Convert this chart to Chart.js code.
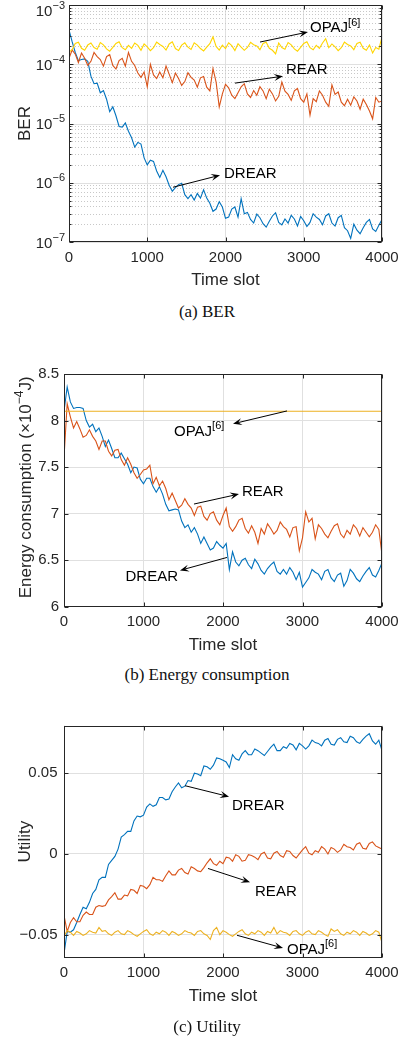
<!DOCTYPE html>
<html>
<head>
<meta charset="utf-8">
<script src="https://cdn.jsdelivr.net/npm/chart.js@4.4.1/dist/chart.umd.min.js"></script>
<style>
body { margin: 0; background: #fff; }
#page { position: relative; width: 406px; height: 1041px; overflow: hidden; }
canvas { position: absolute; left: 0; }
.cap { position: absolute; left: 0; width: 414px; text-align: center; font: 17px/20px "Liberation Serif", "Times New Roman", serif; color: #111; }
</style>
</head>
<body>
<div id="page">
  <canvas id="ber" width="406" height="300" style="top:0px"></canvas>
  <div class="cap" style="top:302px">(a) BER</div>
  <canvas id="energy" width="406" height="300" style="top:360px"></canvas>
  <div class="cap" style="top:665px">(b) Energy consumption</div>
  <canvas id="utility" width="406" height="310" style="top:710px"></canvas>
  <div class="cap" style="top:1017px">(c) Utility</div>
</div>
<script>
// DATA (one value every 40 time slots)
const timeSlots = [
  0, 40, 80, 120, 160, 200, 240, 280, 320, 360,
  400, 440, 480, 520, 560, 600, 640, 680, 720, 760,
  800, 840, 880, 920, 960, 1000, 1040, 1080, 1120, 1160,
  1200, 1240, 1280, 1320, 1360, 1400, 1440, 1480, 1520, 1560,
  1600, 1640, 1680, 1720, 1760, 1800, 1840, 1880, 1920, 1960,
  2000, 2040, 2080, 2120, 2160, 2200, 2240, 2280, 2320, 2360,
  2400, 2440, 2480, 2520, 2560, 2600, 2640, 2680, 2720, 2760,
  2800, 2840, 2880, 2920, 2960, 3000, 3040, 3080, 3120, 3160,
  3200, 3240, 3280, 3320, 3360, 3400, 3440, 3480, 3520, 3560,
  3600, 3640, 3680, 3720, 3760, 3800, 3840, 3880, 3920, 3960,
  4000
];
const xTicks = [0, 1000, 2000, 3000, 4000];

// (a) BER
const berDecades = [-7, -6, -5, -4, -3];
const berDrear = [
  3.8e-4, 2.4e-4, 1.58e-4, 1.15e-4, 1.2e-4, 1.23e-4, 1.12e-4, 6.3e-5, 4.7e-5, 4.8e-5,
  3.3e-5, 3.6e-5, 2.57e-5, 1.58e-5, 1.91e-5, 1.35e-5, 8.9e-6, 8.7e-6, 1.02e-5, 7.4e-6,
  5.75e-6, 4.0e-6, 4.8e-6, 4.5e-6, 2.63e-6, 2.0e-6, 2.4e-6, 2.29e-6, 1.58e-6, 1.23e-6,
  1.62e-6, 1.26e-6, 9.1e-7, 7.2e-7, 8.3e-7, 9.3e-7, 9.8e-7, 6.3e-7, 5.4e-7, 6.3e-7,
  5.1e-7, 6.6e-7, 5.5e-7, 7.6e-7, 5.5e-7, 4.5e-7, 3.3e-7, 3.6e-7, 4.8e-7, 3.9e-7,
  2.51e-7, 2.63e-7, 3.6e-7, 3.9e-7, 2.63e-7, 5.4e-7, 3.0e-7, 3.16e-7, 2.4e-7, 2.09e-7,
  2.95e-7, 2.57e-7, 2.04e-7, 1.78e-7, 2.24e-7, 2.75e-7, 3.1e-7, 2.14e-7, 1.95e-7, 2.45e-7,
  2.09e-7, 2.82e-7, 2.45e-7, 1.86e-7, 2.69e-7, 2.29e-7, 1.82e-7, 2.14e-7, 3.0e-7, 2.63e-7,
  2.4e-7, 1.95e-7, 2.75e-7, 3.0e-7, 2.09e-7, 1.86e-7, 2.57e-7, 2.82e-7, 1.74e-7, 1.55e-7,
  1.15e-7, 2.0e-7, 1.58e-7, 1.38e-7, 1.74e-7, 2.14e-7, 2.4e-7, 1.66e-7, 1.51e-7, 1.91e-7,
  2.4e-7
];
const berRear = [
  1.26e-4, 1.74e-4, 1.48e-4, 1.07e-4, 1.55e-4, 1.26e-4, 9.55e-5, 1.12e-4, 1.58e-4, 1.35e-4,
  1.2e-4, 9.3e-5, 1.35e-4, 1.45e-4, 9.55e-5, 8.3e-5, 1.15e-4, 1.26e-4, 9.3e-5, 1.58e-4,
  1.12e-4, 9.55e-5, 7.1e-5, 6.0e-5, 7.4e-5, 4.17e-5, 1.0e-4, 6.6e-5, 5.75e-5, 7.4e-5,
  5.9e-5, 9.3e-5, 6.8e-5, 4.9e-5, 7.1e-5, 5.75e-5, 4.4e-5, 5.1e-5, 7.2e-5, 6.0e-5,
  5.4e-5, 4.1e-5, 5.9e-5, 6.2e-5, 4.1e-5, 3.55e-5, 8.5e-5, 5.0e-5, 1.91e-5, 3.16e-5,
  4.6e-5, 4.0e-5, 3.0e-5, 2.63e-5, 3.3e-5, 4.17e-5, 4.7e-5, 3.16e-5, 2.75e-5, 3.6e-5,
  3.0e-5, 4.17e-5, 3.55e-5, 2.63e-5, 3.8e-5, 3.16e-5, 2.4e-5, 2.88e-5, 5.0e-5, 3.5e-5,
  3.1e-5, 2.45e-5, 3.55e-5, 3.9e-5, 2.63e-5, 2.29e-5, 3.16e-5, 1.38e-5, 2.63e-5, 2.34e-5,
  3.55e-5, 3.0e-5, 2.29e-5, 1.95e-5, 4.5e-5, 3.1e-5, 3.4e-5, 2.29e-5, 2.0e-5, 2.57e-5,
  2.04e-5, 2.82e-5, 2.4e-5, 1.74e-5, 2.57e-5, 2.09e-5, 1.62e-5, 1.2e-5, 2.75e-5, 2.29e-5,
  2.4e-5
];
const berOpaj = [
  1.6e-4, 1.76e-4, 2.24e-4, 2.36e-4, 1.86e-4, 1.72e-4, 2.12e-4, 2.28e-4, 1.92e-4, 1.8e-4,
  2.32e-4, 2.12e-4, 1.82e-4, 1.66e-4, 1.92e-4, 2.24e-4, 2.4e-4, 1.9e-4, 1.76e-4, 2.08e-4,
  1.86e-4, 2.28e-4, 2.08e-4, 1.72e-4, 2.2e-4, 1.96e-4, 1.7e-4, 1.9e-4, 2.36e-4, 2.16e-4,
  2.0e-4, 1.74e-4, 2.2e-4, 2.4e-4, 1.84e-4, 1.7e-4, 2.1e-4, 2.3e-4, 1.94e-4, 1.78e-4,
  2.3e-4, 2.1e-4, 1.84e-4, 1.68e-4, 1.94e-4, 2.22e-4, 2.9e-4, 2.0e-4, 1.74e-4, 2.1e-4,
  1.84e-4, 2.3e-4, 2.06e-4, 1.7e-4, 2.22e-4, 1.94e-4, 1.72e-4, 1.92e-4, 2.34e-4, 2.14e-4,
  2.04e-4, 1.76e-4, 2.24e-4, 2.36e-4, 1.86e-4, 1.72e-4, 1.5e-4, 2.28e-4, 1.92e-4, 1.8e-4,
  2.32e-4, 2.12e-4, 1.82e-4, 1.66e-4, 1.92e-4, 2.24e-4, 2.4e-4, 1.9e-4, 1.76e-4, 2.08e-4,
  1.86e-4, 2.28e-4, 2.7e-4, 1.9e-4, 2.2e-4, 1.96e-4, 1.7e-4, 1.9e-4, 2.36e-4, 2.16e-4,
  2.04e-4, 1.76e-4, 2.24e-4, 2.36e-4, 1.86e-4, 1.72e-4, 2.12e-4, 1.55e-4, 1.92e-4, 1.8e-4,
  2.9e-4
];

// (b) Energy consumption (x10^-4 J)
const energyTicks = [6, 6.5, 7, 7.5, 8, 8.5];
const energyDrear = [
  8.10, 8.36, 8.20, 8.13, 8.14, 8.14, 8.13, 8.00, 7.93, 7.96,
  7.88, 7.92, 7.83, 7.72, 7.79, 7.70, 7.60, 7.60, 7.65, 7.59,
  7.53, 7.44, 7.50, 7.49, 7.37, 7.32, 7.38, 7.38, 7.29, 7.23,
  7.29, 7.21, 7.10, 7.03, 7.04, 7.05, 7.04, 6.92, 6.85, 6.88,
  6.80, 6.85, 6.78, 6.68, 6.75, 6.68, 6.61, 6.63, 6.70, 6.66,
  6.63, 6.68, 6.40, 6.59, 6.48, 6.44, 6.50, 6.52, 6.45, 6.41,
  6.51, 6.46, 6.39, 6.35, 6.41, 6.45, 6.48, 6.38, 6.35, 6.40,
  6.35, 6.42, 6.37, 6.29, 6.37, 6.21, 6.26, 6.31, 6.40, 6.37,
  6.35, 6.29, 6.38, 6.40, 6.31, 6.27, 6.34, 6.36, 6.22, 6.28,
  6.40, 6.36, 6.30, 6.27, 6.33, 6.38, 6.42, 6.34, 6.32, 6.39,
  6.47
];
const energyRear = [
  7.60, 8.18, 8.04, 7.92, 7.99, 7.91, 7.82, 7.84, 7.90, 7.83,
  7.78, 7.69, 7.78, 7.78, 7.67, 7.62, 7.68, 7.69, 7.58, 7.52,
  7.60, 7.53, 7.44, 7.38, 7.42, 7.47, 7.48, 7.52, 7.32, 7.39,
  7.30, 7.35, 7.27, 7.15, 7.22, 7.14, 7.06, 7.09, 7.16, 7.10,
  7.06, 6.98, 7.07, 7.08, 6.97, 6.93, 7.00, 7.02, 6.93, 6.88,
  6.98, 7.06, 6.86, 6.81, 6.86, 6.93, 6.95, 6.84, 6.79, 6.87,
  6.80, 6.68, 6.84, 6.78, 6.89, 6.84, 6.78, 6.82, 6.91, 6.86,
  6.83, 6.75, 6.85, 6.86, 6.60, 6.74, 7.02, 6.91, 6.95, 6.73,
  6.88, 6.84, 6.78, 6.74, 6.81, 6.87, 6.89, 6.78, 6.74, 6.82,
  6.78, 6.88, 6.84, 6.76, 6.85, 6.80, 6.75, 6.80, 6.88, 6.83,
  6.56
];
const opajEnergySlots = [0, 4000];
const energyOpaj = [8.1, 8.1];

// (c) Utility
const utilityTicks = [-0.05, 0, 0.05];
const utilityDrear = [
  -0.062, -0.048, -0.0485, -0.047, -0.0425, -0.0375, -0.033, -0.034, -0.030, -0.0245,
  -0.022, -0.016, -0.0145, -0.0145, -0.0065, -0.004, -0.0015, 0.003, 0.0105, 0.012,
  0.014, 0.014, 0.0205, 0.0235, 0.023, 0.024, 0.029, 0.031, 0.0295, 0.0305,
  0.035, 0.035, 0.0335, 0.034, 0.0385, 0.0415, 0.044, 0.041, 0.042, 0.0455,
  0.045, 0.050, 0.0495, 0.0485, 0.0545, 0.054, 0.0525, 0.055, 0.0595, 0.059,
  0.058, 0.057, 0.0535, 0.0615, 0.059, 0.058, 0.062, 0.064, 0.0615, 0.0615,
  0.065, 0.064, 0.0625, 0.061, 0.0635, 0.066, 0.068, 0.064, 0.064, 0.0665,
  0.0655, 0.0685, 0.0675, 0.0645, 0.0685, 0.067, 0.065, 0.067, 0.0705, 0.069,
  0.0685, 0.067, 0.0705, 0.0715, 0.068, 0.0675, 0.071, 0.072, 0.0695, 0.069,
  0.073, 0.072, 0.0695, 0.0685, 0.071, 0.073, 0.0745, 0.070, 0.068, 0.0705,
  0.064
];
const utilityRear = [
  -0.038, -0.048, -0.0425, -0.0395, -0.042, -0.042, -0.038, -0.036, -0.0375, -0.0375,
  -0.033, -0.032, -0.0325, -0.032, -0.0285, -0.0265, -0.024, -0.028, -0.028, -0.0255,
  -0.026, -0.022, -0.0225, -0.0245, -0.0195, -0.020, -0.0215, -0.019, -0.0145, -0.016,
  -0.016, -0.017, -0.0135, -0.0105, -0.013, -0.013, -0.010, -0.009, -0.0115, -0.0125,
  -0.008, -0.009, -0.0105, -0.011, -0.0085, -0.0055, -0.003, -0.006, -0.007, -0.0045,
  -0.006, -0.002, -0.0025, -0.0045, -0.0005, -0.0015, -0.0045, -0.004, -0.0005, -0.001,
  -0.002, -0.0035, 0.000, 0.001, -0.0025, -0.003, 0.0005, 0.0015, -0.001, -0.002,
  0.002, 0.0015, -0.001, -0.0025, 0.000, 0.0025, 0.0045, 0.0005, -0.0005, 0.002,
  0.001, 0.0045, 0.003, 0.000, 0.004, 0.003, 0.001, 0.0025, 0.006, 0.0045,
  0.004, 0.0025, 0.006, 0.007, 0.0035, 0.003, 0.0065, 0.0075, 0.005, 0.004,
  0.003
];
const utilityOpaj = [
  -0.051, -0.0475, -0.0485, -0.0505, -0.048, -0.049, -0.0505, -0.0495, -0.0475, -0.0485,
  -0.049, -0.0455, -0.048, -0.0475, -0.0495, -0.0505, -0.0485, -0.0475, -0.0495, -0.050,
  -0.0475, -0.0485, -0.050, -0.051, -0.0495, -0.048, -0.047, -0.0495, -0.0505, -0.0485,
  -0.0495, -0.0475, -0.0485, -0.0505, -0.048, -0.049, -0.0505, -0.0495, -0.0475, -0.0485,
  -0.049, -0.0505, -0.048, -0.0475, -0.0495, -0.0505, -0.053, -0.0475, -0.0455, -0.050,
  -0.0475, -0.0485, -0.050, -0.051, -0.0495, -0.048, -0.047, -0.0495, -0.0505, -0.0485,
  -0.0495, -0.0475, -0.0485, -0.0505, -0.048, -0.049, -0.0455, -0.0495, -0.0475, -0.0485,
  -0.049, -0.0505, -0.048, -0.0475, -0.0495, -0.0505, -0.0485, -0.0475, -0.0495, -0.050,
  -0.0475, -0.0485, -0.050, -0.051, -0.0465, -0.048, -0.047, -0.0495, -0.0505, -0.0485,
  -0.0495, -0.0475, -0.0485, -0.0505, -0.048, -0.049, -0.0505, -0.0495, -0.0475, -0.0485,
  -0.055
];

// STYLE
const INK = '#262626';
const GRID = '#e0e0e0';
const SANS = '"Liberation Sans", Arial, Helvetica, sans-serif';
const BLUE = '#0072bd', ORANGE = '#d95319', GOLD = '#edb120', YELLOW = '#ffd500';
const MINUS = '\u2212';

function series(label, xs, ys, color) {
  return {
    label: label,
    data: ys.map((v, i) => ({ x: xs[i], y: v })),
    borderColor: color,
    borderWidth: 1.1,
    pointRadius: 0,
    tension: 0
  };
}

// text with superscript runs, baseline at y
function drawRich(ctx, x, y, runs, size, align) {
  let w = 0;
  runs.forEach(r => {
    ctx.font = (r.sup ? Math.round(size * 0.7) : size) + 'px ' + SANS;
    w += ctx.measureText(r.t).width;
  });
  let cx = align === 'right' ? x - w : align === 'center' ? x - w / 2 : x;
  ctx.textAlign = 'left';
  ctx.textBaseline = 'alphabetic';
  runs.forEach(r => {
    ctx.font = (r.sup ? Math.round(size * 0.7) : size) + 'px ' + SANS;
    ctx.fillText(r.t, cx, r.sup ? y - size * 0.46 : y);
    cx += ctx.measureText(r.t).width;
  });
}

function arrow(ctx, x1, y1, x2, y2) {
  const ang = Math.atan2(y2 - y1, x2 - x1);
  const L = 9, W = 3.5;
  ctx.beginPath();
  ctx.moveTo(x1, y1);
  ctx.lineTo(x2 - L * 0.6 * Math.cos(ang), y2 - L * 0.6 * Math.sin(ang));
  ctx.stroke();
  ctx.save();
  ctx.translate(x2, y2);
  ctx.rotate(ang);
  ctx.beginPath();
  ctx.moveTo(0, 0);
  ctx.lineTo(-L, -W);
  ctx.lineTo(-L * 0.6, 0);
  ctx.lineTo(-L, W);
  ctx.closePath();
  ctx.fill();
  ctx.restore();
}

// MATLAB-like box, inward ticks, log labels and arrows
const matlabAxes = {
  id: 'matlabAxes',
  beforeDatasetsDraw(chart, args, o) {
    if (!o.decades) return;
    const { ctx, chartArea: a, scales: { y } } = chart;
    ctx.save();
    ctx.lineWidth = 1;
    ctx.strokeStyle = '#c8c8c8';
    ctx.setLineDash([1, 2]);
    o.decades.slice(0, -1).forEach(e => {
      for (let m = 2; m <= 9; m++) {
        const py = Math.round(y.getPixelForValue(m * Math.pow(10, e))) + 0.5;
        ctx.beginPath(); ctx.moveTo(a.left, py); ctx.lineTo(a.right, py); ctx.stroke();
      }
    });
    ctx.setLineDash([]);
    ctx.strokeStyle = GRID;
    o.decades.forEach(e => {
      const py = Math.round(y.getPixelForValue(Math.pow(10, e))) + 0.5;
      ctx.beginPath(); ctx.moveTo(a.left, py); ctx.lineTo(a.right, py); ctx.stroke();
    });
    ctx.restore();
  },
  afterDatasetsDraw(chart, args, o) {
    const { ctx, chartArea: a, scales: { x, y } } = chart;
    const L = Math.round(a.left) + 0.5, R = Math.round(a.right) - 0.5;
    const T = Math.round(a.top) + 0.5, B = Math.round(a.bottom) - 0.5;
    ctx.save();
    ctx.strokeStyle = INK;
    ctx.lineWidth = 1;
    ctx.strokeRect(L, T, R - L, B - T);

    ctx.beginPath();
    x.ticks.forEach(t => {
      const px = Math.round(x.getPixelForValue(t.value)) + 0.5;
      ctx.moveTo(px, B); ctx.lineTo(px, B - 4);
      ctx.moveTo(px, T); ctx.lineTo(px, T + 4);
    });
    const yMarks = [];
    y.ticks.forEach(t => yMarks.push([t.value, 4]));
    if (o.decades) {
      o.decades.slice(0, -1).forEach(e => {
        for (let m = 2; m <= 9; m++) yMarks.push([m * Math.pow(10, e), 2]);
      });
    }
    yMarks.forEach(([v, len]) => {
      const py = Math.round(y.getPixelForValue(v)) + 0.5;
      ctx.moveTo(L, py); ctx.lineTo(L + len, py);
      ctx.moveTo(R, py); ctx.lineTo(R - len, py);
    });
    ctx.stroke();

    ctx.fillStyle = INK;
    if (o.decades) {
      o.decades.forEach(e => {
        const py = y.getPixelForValue(Math.pow(10, e));
        const base = Math.max(py + 5.5, 15.5);
        drawRich(ctx, a.left - 4, base, [{ t: '10' }, { t: MINUS + Math.abs(e), sup: true }], 15, 'right');
      });
    }
    if (o.yTitle) {
      ctx.save();
      ctx.translate(25, (a.top + a.bottom) / 2 - 3);
      ctx.rotate(-Math.PI / 2);
      drawRich(ctx, 0, 6, o.yTitle, 17, 'center');
      ctx.restore();
    }

    ctx.fillStyle = '#000';
    ctx.strokeStyle = '#000';
    (o.notes || []).forEach(n => {
      arrow(ctx, x.getPixelForValue(n.x1), y.getPixelForValue(n.y1),
        x.getPixelForValue(n.x2), y.getPixelForValue(n.y2));
      const runs = [{ t: n.text }];
      if (n.sup) runs.push({ t: n.sup, sup: true });
      drawRich(ctx, x.getPixelForValue(n.tx), y.getPixelForValue(n.ty) + 5.4, runs, 15, n.align || 'left');
    });
    ctx.restore();
  }
};

function makeChart(id, frame, yScale, datasets, axesOpts) {
  const pad = {
    left: 0, right: 406 - frame.right,
    top: frame.top - frame.canvasTop, bottom: 0
  };
  const xAxisH = frame.canvasTop + frame.canvasH - frame.bottom;
  const xTitleBottom = frame.canvasH - (frame.bottom + 38.5 - frame.canvasTop) - 10.2;
  yScale.afterFit = s => { s.width = frame.left; };
  return new Chart(document.getElementById(id), {
    type: 'line',
    data: { datasets: datasets },
    options: {
      responsive: false,
      animation: false,
      events: [],
      devicePixelRatio: 1,
      layout: { padding: pad },
      plugins: { legend: { display: false }, tooltip: { enabled: false }, matlabAxes: axesOpts },
      scales: {
        x: {
          type: 'linear', min: 0, max: 4000,
          afterBuildTicks: s => { s.ticks = xTicks.map(v => ({ value: v })); },
          ticks: { color: INK, font: { family: SANS, size: 15 }, padding: 6.5, maxRotation: 0, callback: v => String(v) },
          grid: { color: GRID, drawTicks: false },
          border: { display: false },
          title: { display: true, text: 'Time slot', color: INK, font: { family: SANS, size: 17 }, padding: { top: 0, bottom: xTitleBottom } },
          afterFit: s => { s.height = xAxisH; }
        },
        y: yScale
      }
    },
    plugins: [matlabAxes]
  });
}

// (a) BER
makeChart('ber',
  { canvasTop: 0, canvasH: 300, left: 69, right: 382, top: 5, bottom: 242 },
  {
    type: 'logarithmic', min: 1e-7, max: 1e-3,
    afterBuildTicks: s => { s.ticks = berDecades.map(e => ({ value: Math.pow(10, e) })); },
    ticks: { display: false },
    grid: { display: false },
    border: { display: false },
    title: { display: true, text: 'BER', color: INK, font: { family: SANS, size: 17 }, padding: { top: 14.8, bottom: 0 } }
  },
  [
    series('OPAJ[6]', timeSlots, berOpaj, YELLOW),
    series('REAR', timeSlots, berRear, ORANGE),
    series('DREAR', timeSlots, berDrear, BLUE)
  ],
  {
    decades: berDecades,
    notes: [
      { x1: 2441, y1: 2.37e-4, x2: 3054, y2: 3.5e-4, tx: 3080, ty: 4.25e-4, text: 'OPAJ', sup: '[6]' },
      { x1: 2121, y1: 4.8e-5, x2: 2735, y2: 6.3e-5, tx: 2773, ty: 8.3e-5, text: 'REAR' },
      { x1: 1329, y1: 8.4e-7, x2: 1930, y2: 1.34e-6, tx: 1981, ty: 1.5e-6, text: 'DREAR' }
    ]
  }
);

// (b) Energy consumption
makeChart('energy',
  { canvasTop: 360, canvasH: 300, left: 64, right: 382, top: 371.7, bottom: 606.7 },
  {
    type: 'linear', min: 6, max: 8.5,
    afterBuildTicks: s => { s.ticks = energyTicks.map(v => ({ value: v })); },
    ticks: { color: INK, font: { family: SANS, size: 15 }, padding: 5, callback: v => String(v) },
    grid: { color: GRID, drawTicks: false },
    border: { display: false }
  },
  [
    series('OPAJ[6]', opajEnergySlots, energyOpaj, GOLD),
    series('REAR', timeSlots, energyRear, ORANGE),
    series('DREAR', timeSlots, energyDrear, BLUE)
  ],
  {
    yTitle: [{ t: 'Energy consumption (\u00d710' }, { t: MINUS + '4', sup: true }, { t: 'J)' }],
    notes: [
      { x1: 2805, y1: 8.103, x2: 2126, y2: 7.965, tx: 1384, ty: 7.89, text: 'OPAJ', sup: '[6]' },
      { x1: 1635, y1: 7.103, x2: 2201, y2: 7.21, tx: 2239, ty: 7.247, text: 'REAR' },
      { x1: 2050, y1: 6.529, x2: 1459, y2: 6.39, tx: 1434, ty: 6.332, text: 'DREAR', align: 'right' }
    ]
  }
);

// (c) Utility
makeChart('utility',
  { canvasTop: 710, canvasH: 310, left: 64, right: 382, top: 721.7, bottom: 957.7 },
  {
    type: 'linear', min: -0.0643, max: 0.0796,
    afterBuildTicks: s => { s.ticks = utilityTicks.map(v => ({ value: v })); },
    ticks: { color: INK, font: { family: SANS, size: 15 }, padding: 6.5, callback: v => (v < 0 ? MINUS + String(-v) : String(v)) },
    grid: { color: GRID, drawTicks: false },
    border: { display: false },
    title: { display: true, text: 'Utility', color: INK, font: { family: SANS, size: 17 }, padding: { top: 14.8, bottom: 0 } }
  },
  [
    series('OPAJ[6]', timeSlots, utilityOpaj, GOLD),
    series('REAR', timeSlots, utilityRear, ORANGE),
    series('DREAR', timeSlots, utilityDrear, BLUE)
  ],
  {
    notes: [
      { x1: 1522, y1: 0.0423, x2: 2076, y2: 0.0355, tx: 2113, ty: 0.0304, text: 'DREAR' },
      { x1: 1811, y1: -0.009, x2: 2340, y2: -0.0175, tx: 2403, ty: -0.0227, text: 'REAR' },
      { x1: 2176, y1: -0.0504, x2: 2755, y2: -0.0583, tx: 2805, ty: -0.0584, text: 'OPAJ', sup: '[6]' }
    ]
  }
);
</script>
</body>
</html>
